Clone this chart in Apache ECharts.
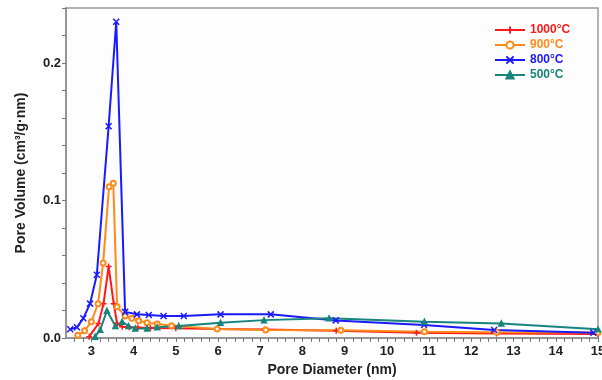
<!DOCTYPE html>
<html>
<head>
<meta charset="utf-8">
<script src="https://cdn.jsdelivr.net/npm/echarts@6/dist/echarts.min.js"></script>
<style>
  html, body { margin: 0; padding: 0; background: #ffffff; }
  #chart { width: 602px; height: 380px; }
</style>
</head>
<body>
<div id="chart"></div>
<script>
// Pore size distribution, pore diameter (nm) vs. pore volume (cm³/g·nm)
const seriesNames = ['1000°C', '900°C', '800°C', '500°C'];
const seriesColors = ['#ff1a1a', '#ff8a1a', '#1a1aff', '#17857d'];

const d1000 = [
  [2.95, 0.001], [3.17, 0.0106], [3.29, 0.025], [3.41, 0.052], [3.53, 0.025],
  [3.61, 0.0106], [3.73, 0.0082], [3.9, 0.0078], [4.1, 0.0076], [4.4, 0.0073],
  [5.0, 0.0071], [6.0, 0.0066], [7.1, 0.0062], [8.8, 0.0052], [10.7, 0.0038],
  [12.6, 0.0032], [15.0, 0.003]
];
const d900 = [
  [2.68, 0.002], [2.84, 0.0053], [3.0, 0.0118], [3.16, 0.025], [3.28, 0.0546],
  [3.42, 0.110], [3.52, 0.1125], [3.61, 0.0227], [3.8, 0.016], [3.96, 0.0143],
  [4.12, 0.0126], [4.32, 0.0111], [4.56, 0.0101], [4.9, 0.009], [5.98, 0.0066],
  [7.13, 0.0058], [8.91, 0.0056], [10.89, 0.0046], [12.6, 0.0042], [15.0, 0.004]
];
const d800 = [
  [2.5, 0.0063], [2.66, 0.0078], [2.81, 0.0143], [2.97, 0.025], [3.13, 0.046],
  [3.41, 0.154], [3.59, 0.230], [3.8, 0.019], [4.08, 0.0172], [4.36, 0.0167],
  [4.71, 0.016], [5.19, 0.016], [6.06, 0.0172], [7.25, 0.0172], [8.79, 0.0128],
  [10.88, 0.0094], [12.54, 0.0058], [14.89, 0.0039]
];
const d500 = [
  [3.09, 0.001], [3.21, 0.006], [3.37, 0.0198], [3.57, 0.0087], [3.73, 0.0118],
  [3.88, 0.0087], [4.04, 0.007], [4.32, 0.007], [4.56, 0.0078], [5.07, 0.0087],
  [6.06, 0.0111], [7.09, 0.013], [8.63, 0.0143], [10.89, 0.0118], [12.71, 0.0106],
  [15.0, 0.0063]
];
const seriesData = [d1000, d900, d800, d500];

const plusPath = 'path://M5,0L5,10M0,5L10,5';
const crossPath = 'path://M0,0L10,10M10,0L0,10';
const symbols = [plusPath, 'emptyCircle', crossPath, 'triangle'];
const symbolSizes = [6, 5, 6, 5];

const axisFont = { fontFamily: 'Liberation Sans, Arial, sans-serif', fontWeight: 'bold', fontSize: 13, color: '#222' };
const isMajor = (v, step) => Math.abs(v / step - Math.round(v / step)) < 1e-6;

const chart = echarts.init(document.getElementById('chart'), null, { renderer: 'canvas' });
chart.setOption({
  animation: false,
  backgroundColor: '#ffffff',
  grid: {
    left: 66, right: 4, top: 8, bottom: 42,
    outerBoundsMode: 'none',
    show: true, borderColor: '#9a9a9a', borderWidth: 1.5, backgroundColor: '#fdfdfd'
  },
  legend: {
    orient: 'vertical',
    left: 494, top: 24, padding: 0,
    itemWidth: 30, itemHeight: 9, itemGap: 3,
    textStyle: { fontFamily: 'Liberation Sans, Arial, sans-serif', fontWeight: 'bold', fontSize: 12 },
    data: seriesNames.map((n, i) => ({ name: n, textStyle: { color: seriesColors[i] } }))
  },
  xAxis: {
    type: 'value',
    min: 2.4, max: 15, interval: 0.2,
    name: 'Pore Diameter (nm)',
    nameLocation: 'middle', nameGap: 25,
    nameTextStyle: { fontFamily: 'Liberation Sans, Arial, sans-serif', fontWeight: 'bold', fontSize: 14, color: '#222' },
    axisLine: { lineStyle: { color: '#8c8c8c', width: 1.5 } },
    axisTick: { show: true, inside: false, length: 4, lineStyle: { color: '#777' } },
    axisLabel: Object.assign({
      margin: 7,
      showMinLabel: false,
      formatter: v => isMajor(v, 1) ? String(Math.round(v)) : ''
    }, axisFont),
    splitLine: { show: false }
  },
  yAxis: {
    type: 'value',
    min: 0, max: 0.24, interval: 0.02,
    name: 'Pore Volume (cm³/g·nm)',
    nameLocation: 'middle', nameGap: 38, nameRotate: 90,
    nameTextStyle: { fontFamily: 'Liberation Sans, Arial, sans-serif', fontWeight: 'bold', fontSize: 14, color: '#222' },
    axisLine: { show: true, lineStyle: { color: '#8c8c8c', width: 1.5 } },
    axisTick: { show: true, inside: false, length: 4, lineStyle: { color: '#777' } },
    axisLabel: Object.assign({
      margin: 5,
      formatter: v => isMajor(v, 0.1) ? v.toFixed(1) : ''
    }, axisFont),
    splitLine: { show: false }
  },
  series: seriesNames.map((n, i) => ({
    name: n,
    type: 'line',
    data: seriesData[i],
    symbol: symbols[i],
    symbolSize: symbolSizes[i],
    showAllSymbol: true,
    lineStyle: { color: seriesColors[i], width: 2 },
    itemStyle: { color: seriesColors[i], borderColor: seriesColors[i], borderWidth: 1.5 }
  }))
});
</script>
</body>
</html>
